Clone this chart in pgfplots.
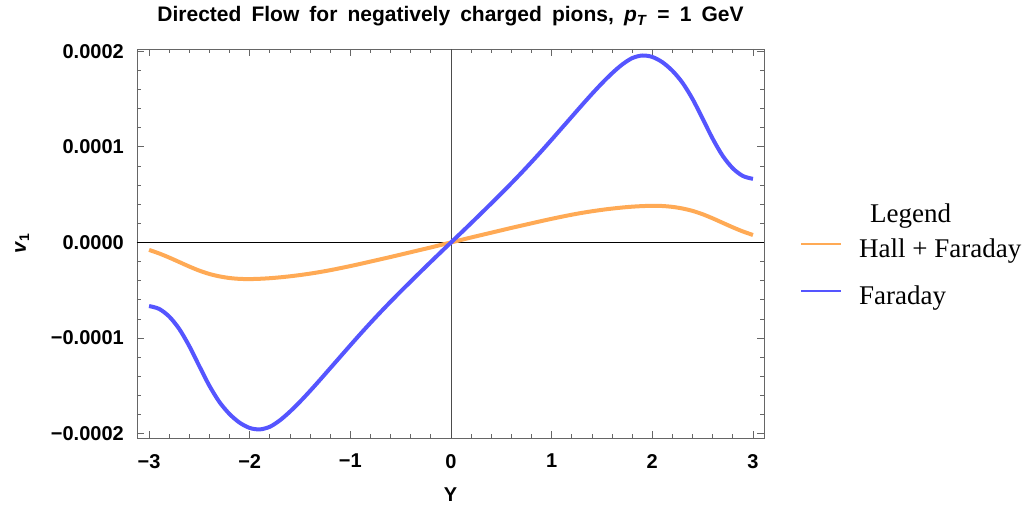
\documentclass[border=0pt]{standalone}
\usepackage{fontspec}
\setmainfont{Liberation Serif}
\setsansfont{Liberation Sans}
\usepackage{pgfplots}
\usepackage{pgfplotstable}
\pgfplotsset{compat=1.18}
\definecolor{corange}{RGB}{255,170,85}
\definecolor{cblue}{RGB}{85,85,255}
\definecolor{framec}{gray}{0.4}

\pgfplotstableread{
x y
-3.0 -6.65e-5
-2.9 -6.95e-5
-2.8 -7.75e-5
-2.7 -9.05e-5
-2.6 -1.085e-4
-2.5 -1.295e-4
-2.4 -1.50e-4
-2.3 -1.67e-4
-2.2 -1.795e-4
-2.1 -1.885e-4
-2.0 -1.94e-4
-1.9 -1.955e-4
-1.8 -1.9275e-4
-1.7 -1.860e-4
-1.6 -1.769e-4
-1.5 -1.665e-4
-1.4 -1.5525e-4
-1.3 -1.435e-4
-1.2 -1.315e-4
-1.1 -1.195e-4
-1.0 -1.075e-4
-0.9 -9.565e-5
-0.8 -8.41e-5
-0.7 -7.285e-5
-0.6 -6.19e-5
-0.5 -5.125e-5
-0.4 -4.08e-5
-0.3 -3.045e-5
-0.2 -2.02e-5
-0.1 -1.005e-5
0.0 0
0.1 1.005e-5
0.2 2.02e-5
0.3 3.045e-5
0.4 4.08e-5
0.5 5.125e-5
0.6 6.19e-5
0.7 7.285e-5
0.8 8.41e-5
0.9 9.565e-5
1.0 1.075e-4
1.1 1.195e-4
1.2 1.315e-4
1.3 1.435e-4
1.4 1.5525e-4
1.5 1.665e-4
1.6 1.769e-4
1.7 1.860e-4
1.8 1.9275e-4
1.9 1.955e-4
2.0 1.94e-4
2.1 1.885e-4
2.2 1.795e-4
2.3 1.67e-4
2.4 1.50e-4
2.5 1.295e-4
2.6 1.085e-4
2.7 9.05e-5
2.8 7.75e-5
2.9 6.95e-5
3.0 6.65e-5
}\faraday

\pgfplotstableread{
x y
-3.0 -7.8e-6
-2.9 -1.15e-5
-2.8 -1.58e-5
-2.7 -2.05e-5
-2.6 -2.52e-5
-2.5 -2.95e-5
-2.4 -3.30e-5
-2.3 -3.55e-5
-2.2 -3.72e-5
-2.1 -3.81e-5
-2.0 -3.83e-5
-1.9 -3.80e-5
-1.8 -3.74e-5
-1.7 -3.65e-5
-1.6 -3.54e-5
-1.5 -3.41e-5
-1.4 -3.26e-5
-1.3 -3.09e-5
-1.2 -2.90e-5
-1.1 -2.69e-5
-1.0 -2.47e-5
-0.9 -2.24e-5
-0.8 -2.00e-5
-0.7 -1.76e-5
-0.6 -1.52e-5
-0.5 -1.27e-5
-0.4 -1.02e-5
-0.3 -7.7e-6
-0.2 -5.2e-6
-0.1 -2.6e-6
0.0 0
0.1 2.6e-6
0.2 5.2e-6
0.3 7.7e-6
0.4 1.02e-5
0.5 1.27e-5
0.6 1.52e-5
0.7 1.76e-5
0.8 2.00e-5
0.9 2.24e-5
1.0 2.47e-5
1.1 2.69e-5
1.2 2.90e-5
1.3 3.09e-5
1.4 3.26e-5
1.5 3.41e-5
1.6 3.54e-5
1.7 3.65e-5
1.8 3.74e-5
1.9 3.80e-5
2.0 3.83e-5
2.1 3.81e-5
2.2 3.72e-5
2.3 3.55e-5
2.4 3.30e-5
2.5 2.95e-5
2.6 2.52e-5
2.7 2.05e-5
2.8 1.58e-5
2.9 1.15e-5
3.0 7.8e-6
}\hallfaraday

\begin{document}
\begin{tikzpicture}[x=1pt,y=1pt]
\path[use as bounding box] (-137,-70) rectangle (890,438);
\begin{axis}[
  at={(0,0)}, anchor=south west,
  scale only axis, width=627pt, height=389pt,
  xmin=-3.12, xmax=3.11, ymin=-0.0002045, ymax=0.0002023,
  scaled y ticks=false, scaled x ticks=false,
  axis line style={framec, line width=0.8pt},
  xtick={-3,-2,-1,0,1,2,3},
  xticklabels={−3,−2,−1,0,1,2,3},
  ytick={-0.0002,-0.0001,0,0.0001,0.0002},
  yticklabels={−0.0002,−0.0001,0.0000,0.0001,0.0002},
  minor x tick num=4, minor y tick num=4,
  tick align=inside, major tick length=7pt, minor tick length=4pt,
  tick style={framec, line width=0.8pt},
  ticklabel style={font=\sffamily\bfseries\fontsize{20}{24}\selectfont, text=black},
  xticklabel style={anchor=north, inner sep=0pt, yshift=-16pt},
  yticklabel style={anchor=east, inner sep=0pt, xshift=-13pt},
  extra x ticks={0}, extra y ticks={0},
  extra x tick labels={}, extra y tick labels={},
  extra x tick style={grid=major, major grid style={black!70, line width=0.8pt}, major tick length=0pt},
  extra y tick style={grid=major, major grid style={black, line width=0.7pt}, major tick length=0pt},
  title={\spaceskip=0.48em\relax Directed Flow for negatively charged pions, \textit{p}\textsubscript{\textit{T}} = 1 GeV},
  title style={at={(axis description cs:0.5,1)}, anchor=base, yshift=21pt, inner sep=0pt,
    font=\sffamily\bfseries\fontsize{21}{25}\selectfont},
  xlabel={Y},
  xlabel style={at={(axis description cs:0.5,-0.1465)}, anchor=center, inner sep=0pt,
    font=\sffamily\bfseries\fontsize{20}{24}\selectfont},
  ylabel={\textit{v}\textsubscript{1}},
  ylabel style={at={(axis description cs:-0.183,0.5)}, anchor=center, inner sep=0pt,
    font=\sffamily\bfseries\fontsize{20}{24}\selectfont},
  legend style={at={(axis description cs:1.0574,0.631)}, anchor=north west,
    draw=none, fill=none, inner sep=0pt, row sep=23pt,
    font=\rmfamily\fontsize{27}{32}\selectfont,
    nodes={inner sep=0pt, text height=18pt, text depth=6pt},
    /tikz/every odd column/.append style={column sep=17pt}},
  legend cell align=left,
  legend image code/.code={\draw[#1, line width=2pt] (0pt,8pt) -- (40pt,8pt);},
]
\addlegendimage{empty legend}
\addlegendentry{\raisebox{-12pt}[0pt][0pt]{\hspace{11pt}Legend}}
\addplot[corange, line width=4pt, smooth] table[x=x,y=y] {\hallfaraday};
\addlegendentry{Hall + Faraday}
\addplot[cblue, line width=4pt, smooth] table[x=x,y=y] {\faraday};
\addlegendentry{Faraday}
\end{axis}
\end{tikzpicture}
\end{document}
